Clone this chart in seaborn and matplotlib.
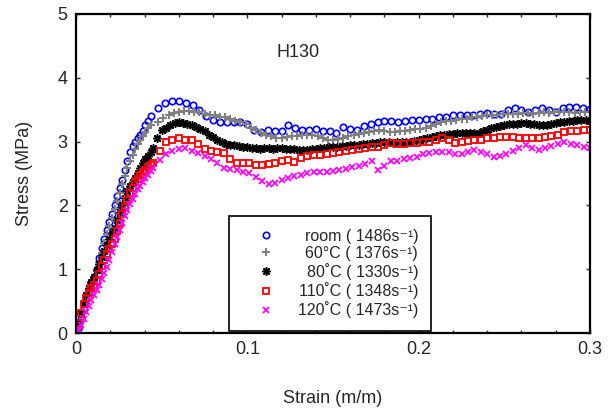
import numpy as np
import matplotlib
matplotlib.use("Agg")
import matplotlib.pyplot as plt
import seaborn as sns

# Stress (MPa).
# Loading part: sampled every 0.0015 strain from 0.
# Rest of each curve: sampled from *_start with a constant step.
rise_step = 0.0015

room_rise = [0.0, 0.10, 0.22, 0.38, 0.53, 0.66, 0.78, 0.88, 1.00, 1.17,
             1.33, 1.48, 1.61, 1.74, 1.87, 2.00, 2.15, 2.28, 2.40, 2.55,
             2.70, 2.83, 2.93, 3.00, 3.05, 3.11, 3.17, 3.26, 3.33, 3.40]
room_start, room_step = 0.048, 0.004
room_stress = [3.52, 3.60, 3.64, 3.63, 3.61, 3.58, 3.50, 3.40,
               3.34, 3.31, 3.30, 3.31, 3.30, 3.28, 3.18, 3.15, 3.18, 3.16,
               3.17, 3.26, 3.21, 3.18, 3.18, 3.19, 3.17, 3.16, 3.13, 3.23,
               3.19, 3.18, 3.24, 3.28, 3.31, 3.32, 3.33, 3.31, 3.33, 3.34,
               3.34, 3.35, 3.36, 3.38, 3.39, 3.41, 3.42, 3.41, 3.42, 3.43,
               3.45, 3.43, 3.44, 3.49, 3.52, 3.49, 3.46, 3.50, 3.53, 3.49,
               3.47, 3.53, 3.54, 3.54, 3.52, 3.51]

c60_rise = [0.0, 0.08, 0.19, 0.33, 0.47, 0.60, 0.72, 0.84, 0.97, 1.11,
            1.26, 1.41, 1.55, 1.68, 1.81, 1.94, 2.07, 2.20, 2.33, 2.46,
            2.58, 2.69, 2.79, 2.88, 2.96, 3.03, 3.09, 3.15, 3.21, 3.26]
c60_start, c60_step = 0.048, 0.003
c60_stress = [3.30, 3.37, 3.42, 3.45,
              3.47, 3.48, 3.48, 3.47, 3.46, 3.44, 3.42, 3.41, 3.39, 3.38,
              3.35, 3.33, 3.30, 3.27, 3.22, 3.18, 3.14, 3.11, 3.08, 3.06,
              3.05, 3.07, 3.08, 3.09, 3.10, 3.10, 3.10, 3.09, 3.06, 3.03,
              3.02, 3.04, 3.05, 3.08, 3.10, 3.12, 3.14, 3.15, 3.17, 3.18,
              3.17, 3.15, 3.15, 3.16, 3.17, 3.18, 3.19, 3.20, 3.21, 3.24,
              3.28, 3.31, 3.32, 3.33, 3.34, 3.35, 3.36, 3.38, 3.39, 3.40,
              3.41, 3.42, 3.42, 3.43, 3.44, 3.43, 3.44, 3.45, 3.45, 3.44,
              3.45, 3.46, 3.45, 3.46, 3.46, 3.47, 3.46, 3.45, 3.46, 3.47,
              3.46]

c80_rise = [0.0, 0.15, 0.32, 0.47, 0.60, 0.71, 0.80, 0.88, 0.98, 1.08,
            1.19, 1.28, 1.38, 1.47, 1.56, 1.65, 1.77, 1.89, 2.01, 2.12,
            2.22, 2.30, 2.37, 2.43, 2.50, 2.58, 2.66, 2.73, 2.78, 2.84]
c80_start, c80_step = 0.045, 0.0025
c80_stress = [2.90, 3.05,
              3.18, 3.22, 3.26, 3.29, 3.30, 3.29, 3.28, 3.26, 3.23, 3.20,
              3.16, 3.11, 3.07, 3.03, 3.00, 2.97, 2.95, 2.94, 2.93, 2.92,
              2.91, 2.90, 2.90, 2.89, 2.90, 2.90, 2.89, 2.90, 2.90, 2.89,
              2.88, 2.88, 2.87, 2.87, 2.87, 2.88, 2.89, 2.90, 2.90, 2.91,
              2.91, 2.92, 2.93, 2.93, 2.94, 2.95, 2.95, 2.96, 2.97, 2.98,
              2.98, 2.99, 2.99, 2.99, 2.98, 2.99, 2.99, 2.99, 2.99, 3.01,
              3.03, 3.04, 3.05, 3.07, 3.08, 3.10, 3.11, 3.12, 3.12, 3.13,
              3.13, 3.13, 3.13, 3.13, 3.14, 3.16, 3.18, 3.21, 3.23, 3.25,
              3.26, 3.27, 3.28, 3.28, 3.29, 3.29, 3.28, 3.27, 3.26, 3.26,
              3.26, 3.27, 3.29, 3.30, 3.31, 3.32, 3.33, 3.34, 3.34, 3.34,
              3.33]

c110_rise = [0.0, 0.16, 0.32, 0.45, 0.55, 0.63, 0.70, 0.76, 0.82, 0.93,
             1.05, 1.15, 1.24, 1.32, 1.39, 1.47, 1.60, 1.73, 1.86, 1.98,
             2.09, 2.19, 2.28, 2.36, 2.42, 2.48, 2.52, 2.56, 2.60, 2.64]
c110_start, c110_step = 0.045, 0.00375
c110_stress = [2.66, 2.85, 2.99, 3.02, 3.05, 3.03, 3.02, 2.96,
               2.89, 2.85, 2.83, 2.82, 2.72, 2.67, 2.66, 2.66, 2.64, 2.63,
               2.65, 2.66, 2.69, 2.71, 2.68, 2.74, 2.77, 2.79, 2.79, 2.80,
               2.82, 2.84, 2.86, 2.87, 2.88, 2.90, 2.91, 2.92, 2.95, 2.98,
               2.96, 2.97, 2.98, 2.98, 2.99, 3.00, 3.03, 3.05, 3.02, 2.98,
               2.99, 3.01, 3.02, 3.03, 3.05, 3.06, 3.07, 3.07, 3.07, 3.06,
               3.05, 3.05, 3.06, 3.07, 3.08, 3.11, 3.15, 3.16, 3.17, 3.18,
               3.18]

c120_rise = [0.0, 0.05, 0.12, 0.22, 0.33, 0.42, 0.51, 0.59, 0.67, 0.76,
             0.85, 0.94, 1.03, 1.15, 1.27, 1.39, 1.50, 1.62, 1.73, 1.84,
             1.93, 2.02, 2.10, 2.18, 2.25, 2.31, 2.37, 2.43, 2.48, 2.54]
c120_start, c120_step = 0.045, 0.00375
c120_stress = [2.58, 2.71, 2.81, 2.85, 2.88, 2.90, 2.86, 2.82,
               2.78, 2.73, 2.66, 2.59, 2.57, 2.55, 2.53, 2.50, 2.44, 2.38,
               2.33, 2.35, 2.40, 2.43, 2.46, 2.48, 2.50, 2.52, 2.52, 2.53,
               2.54, 2.55, 2.57, 2.60, 2.62, 2.65, 2.70, 2.56, 2.62, 2.70,
               2.69, 2.72, 2.74, 2.76, 2.80, 2.82, 2.83, 2.84, 2.83, 2.80,
               2.80, 2.83, 2.87, 2.84, 2.80, 2.76, 2.78, 2.81, 2.86, 2.90,
               2.95, 2.90, 2.87, 2.90, 2.93, 2.96, 2.99, 2.97, 2.94, 2.92,
               2.90]

labels = ["room ( 1486s⁻¹)",
          "60°C ( 1376s⁻¹)",
          "80˚C ( 1330s⁻¹)",
          "110˚C ( 1348s⁻¹)",
          "120˚C ( 1473s⁻¹)"]
xticks = [0, 0.1, 0.2, 0.3]
xticklabels = ["0", "0.1", "0.2", "0.3"]
yticks = [0, 1, 2, 3, 4, 5]

sns.set_style("ticks")
plt.rcParams["font.family"] = ["Liberation Sans", "DejaVu Sans"]
plt.rcParams["font.size"] = 13

fig = plt.figure(figsize=(6.09, 4.19), dpi=100)
ax = fig.add_axes([76 / 609, 86 / 419, 514 / 609, 319 / 419])

series = [
    (room_rise, room_start, room_step, room_stress,
     dict(marker="o", mfc="none", mec="#0000ff", color="#0000ff", ms=4.6, mew=1.2)),
    (c60_rise, c60_start, c60_step, c60_stress,
     dict(marker="+", mec="#808080", color="#808080", ms=6.0, mew=1.5)),
    (c80_rise, c80_start, c80_step, c80_stress,
     dict(marker=(8, 2, 0), mec="black", color="black", ms=6.0, mew=1.1)),
    (c110_rise, c110_start, c110_step, c110_stress,
     dict(marker="s", mfc="none", mec="#ff0000", color="#ff0000", ms=4.8, mew=1.3)),
    (c120_rise, c120_start, c120_step, c120_stress,
     dict(marker="x", mec="#ff00ff", color="#ff00ff", ms=4.8, mew=1.3)),
]
for (rise, start, step, rest, style), lab in zip(series, labels):
    strain = np.concatenate([np.arange(len(rise)) * rise_step,
                             start + np.arange(len(rest)) * step])
    stress = np.concatenate([rise, rest])
    sns.lineplot(x=strain, y=stress, ax=ax, linestyle="", estimator=None,
                 sort=False, label=lab, **style)

ax.set_xlim(0, 0.3)
ax.set_ylim(0, 5)
ax.set_xticks(xticks)
ax.set_xticklabels(xticklabels)
ax.set_yticks(yticks)
ax.set_xticks(np.arange(0, 0.301, 0.02), minor=True)
ax.tick_params(which="both", direction="in", top=True, right=True, width=1)
ax.tick_params(which="major", length=3, pad=6)
ax.tick_params(which="minor", length=2)
for sp in ax.spines.values():
    sp.set_linewidth(1.6)
    sp.set_color("black")

ax.set_xlabel("Strain (m/m)")
ax.set_ylabel("Stress (MPa)")
ax.xaxis.label.set_va("center")
ax.yaxis.label.set_va("center")
ax.xaxis.set_label_coords(0.5, -0.204)
ax.yaxis.set_label_coords(-0.101, 0.5)

ax.text(0.1296, 4.40, "H130", ha="center", va="center", fontsize=13)

leg = ax.legend(loc="lower left", bbox_to_anchor=(0.298, 0.006, 0.393, 0.367),
                mode="expand", numpoints=1, fontsize=11.5, frameon=True,
                fancybox=False, framealpha=1, edgecolor="black",
                borderpad=0.8, labelspacing=0.14, handlelength=3.0,
                handletextpad=0.4, borderaxespad=0)
leg.get_frame().set_linewidth(1.2)

# right-align the legend labels like the original
fig.canvas.draw()
renderer = fig.canvas.get_renderer()
frame = leg.get_frame().get_window_extent(renderer)
right_edge = frame.x1 - 13
for t in leg.get_texts():
    bb = t.get_window_extent(renderer)
    t.set_x(right_edge - bb.x1)

fig.savefig("out.png", dpi=100)
